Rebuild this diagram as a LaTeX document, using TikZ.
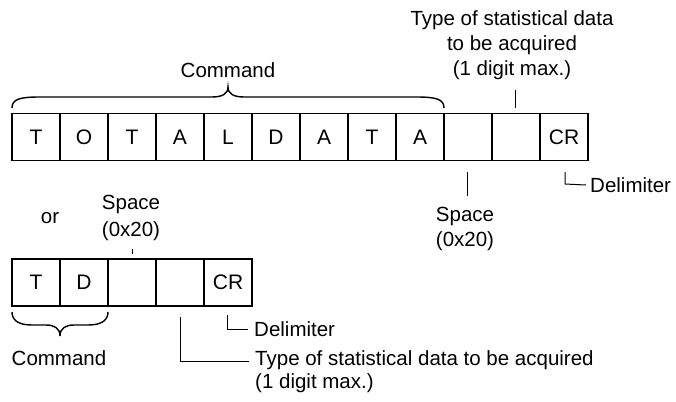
\documentclass[tikz,border=0pt]{standalone}
\usepackage{fontspec}
\setmainfont{Liberation Sans}
\begin{document}
\begin{tikzpicture}[x=1pt,y=-1pt,
  cell/.style={draw, line width=1.7pt, minimum width=48pt, minimum height=47pt, inner sep=0pt, outer sep=0pt, font=\fontsize{21}{24}\selectfont},
  lbl/.style={font=\fontsize{20.5}{25}\selectfont, inner sep=0pt, align=center},
  brc/.style={line width=1.4pt},
  conn/.style={line width=1pt}]
\useasboundingbox (0,0) rectangle (676,401);
% top row
\foreach \t [count=\i] in {T,O,T,A,L,D,A,T,A,{},{},CR}
  \node[cell] (a\i) at ({12+24+48*(\i-1)},137) {\t};
% top labels
\node[lbl] (cmdtop) at (228,70) {Command};
\node[lbl] (typetop) at (512,45) {Type of statistical data\\to be acquired\\(1 digit max.)};
\coordinate (tt1) at (515,90);
\coordinate (tt2) at (515,108);
\draw[conn] (tt1) -- (tt2);
% top brace
\coordinate (bl) at (12,108);
\coordinate (bm) at (228,87);
\coordinate (br) at (444,108);
\draw[brc] (bl) .. controls (12,99) and (20,97) .. (40,97) -- (212,97)
  .. controls (222,97) and (228,94) .. (bm)
  .. controls (228,94) and (234,97) .. (244,97) -- (416,97)
  .. controls (436,97) and (444,99) .. (br);
% top delimiter
\coordinate (d1) at (565,172);
\coordinate (d2) at (565,184);
\node[lbl, anchor=west] (delimtop) at (590,185) {Delimiter};
\draw[conn] (d1) -- (d2) -- (delimtop.west -| 586,0);
% space
\coordinate (s1) at (467,172);
\coordinate (s2) at (467,196);
\draw[conn] (s1) -- (s2);
\node[lbl] (spacetop) at (465,229) {Space\\(0x20)};
% bottom
\node[lbl] (or) at (50,218) {or};
\node[lbl, font=\fontsize{20.5}{27}\selectfont] (spacebot) at (131,218) {Space\\(0x20)};
\foreach \t [count=\i] in {T,D,{},{},CR}
  \node[cell] (b\i) at ({12+24+48*(\i-1)},282.5) {\t};
\coordinate (st1) at (132,249);
\coordinate (st2) at (132,254);
\draw[conn] (st1) -- (st2);
% bottom brace
\coordinate (cl) at (12,312);
\coordinate (cm) at (60,336);
\coordinate (cr) at (108,312);
\draw[brc] (cl) .. controls (12,320) and (18,325) .. (32,325) -- (46,325)
  .. controls (54,325) and (60,328) .. (cm)
  .. controls (60,328) and (66,325) .. (74,325) -- (88,325)
  .. controls (102,325) and (108,320) .. (cr);
\node[lbl] (cmdbot) at (59,358) {Command};
% bottom delimiter
\coordinate (e1) at (227,315);
\node[lbl, anchor=west] (delimbot) at (254,329) {Delimiter};
\draw[conn] (e1) |- (delimbot.west -| 248,0);
% bottom type
\coordinate (f1) at (180,317);
\node[lbl, anchor=west, align=left, font=\fontsize{20.5}{23}\selectfont] (typebot) at (255,372) {Type of statistical data to be acquired\\(1 digit max.)};
\draw[conn] (f1) |- (249,361);
\end{tikzpicture}
\end{document}
